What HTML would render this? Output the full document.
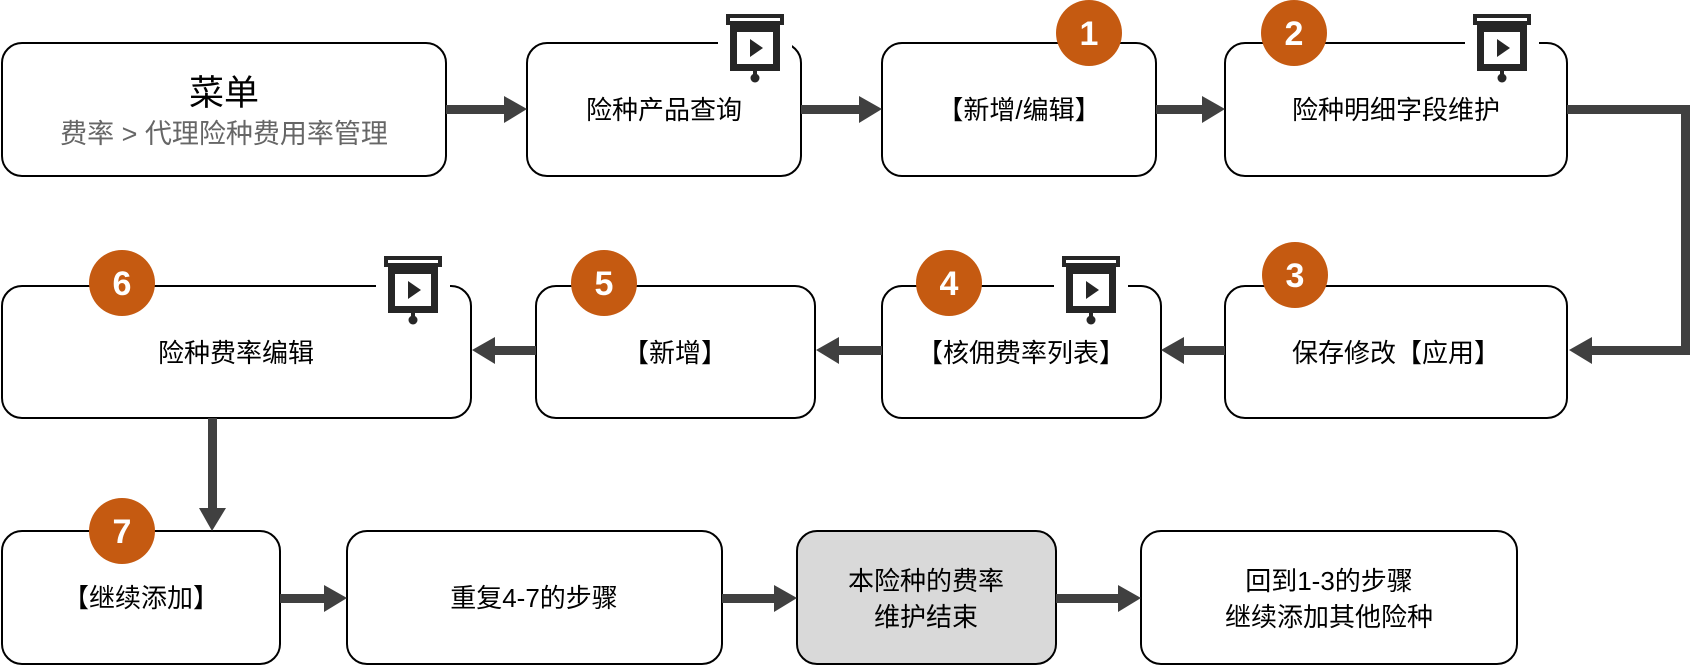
<!DOCTYPE html>
<html><head><meta charset="utf-8"><style>
html,body{margin:0;padding:0;background:#fff;}
svg{display:block;font-family:"Liberation Sans","Noto Sans CJK SC",sans-serif;}
</style></head><body>
<svg width="1690" height="668" viewBox="0 0 1690 668" xmlns="http://www.w3.org/2000/svg">
<defs>
<g id="proj">
<rect x="-29" y="0" width="58" height="11" fill="#262626"/>
<rect x="-25" y="11" width="50" height="46" fill="#262626"/>
<rect x="-18" y="18" width="36" height="32" fill="#fff"/>
<rect x="-25" y="4" width="50" height="3" fill="#fff"/>
<polygon points="-5,25 -5,43 8,34" fill="#262626"/>
<rect x="-2" y="57" width="4" height="6" fill="#262626"/>
<circle cx="0" cy="64" r="4.5" fill="#262626"/>
</g>
</defs>
<g fill="#fff" stroke="#000" stroke-width="2">
<rect x="2" y="43" width="444" height="133" rx="20"/>
<rect x="527" y="43" width="274" height="133" rx="20"/>
<rect x="882" y="43" width="274" height="133" rx="20"/>
<rect x="1225" y="43" width="342" height="133" rx="20"/>
<rect x="2" y="286" width="469" height="132" rx="20"/>
<rect x="536" y="286" width="279" height="132" rx="20"/>
<rect x="882" y="286" width="279" height="132" rx="20"/>
<rect x="1225" y="286" width="342" height="132" rx="20"/>
<rect x="2" y="531" width="278" height="133" rx="20"/>
<rect x="347" y="531" width="375" height="133" rx="20"/>
<rect x="797" y="531" width="259" height="133" rx="20" fill="#d9d9d9"/>
<rect x="1141" y="531" width="376" height="133" rx="20"/>
</g>
<g fill="#404040">
<rect x="446" y="105" width="60" height="9"/><polygon points="504,96 527,109 504,123"/>
<rect x="801" y="105" width="60" height="9"/><polygon points="859,96 882,109 859,123"/>
<rect x="1156" y="105" width="48" height="9"/><polygon points="1202,96 1225,109 1202,123"/>
<path d="M1567 105 H1690 V355 H1590 V346 H1681 V114 H1567Z"/><polygon points="1592,337 1569,350 1592,364"/>
<rect x="1183" y="346" width="42" height="9"/><polygon points="1184,337 1161,350 1184,364"/>
<rect x="838" y="346" width="44" height="9"/><polygon points="839,337 816,350 839,364"/>
<rect x="494" y="346" width="42" height="9"/><polygon points="495,337 472,350 495,364"/>
<rect x="208" y="418" width="9" height="92"/><polygon points="199,508 212,531 226,508"/>
<rect x="280" y="594" width="46" height="9"/><polygon points="324,585 347,598 324,612"/>
<rect x="722" y="594" width="54" height="9"/><polygon points="774,585 797,598 774,612"/>
<rect x="1056" y="594" width="64" height="9"/><polygon points="1118,585 1141,598 1118,612"/>
</g>
<g>
<rect x="718" y="30" width="74" height="26" fill="#fff"/><use href="#proj" x="755" y="14"/>
<rect x="1465" y="30" width="74" height="26" fill="#fff"/><use href="#proj" x="1502" y="14"/>
<rect x="376" y="274" width="74" height="26" fill="#fff"/><use href="#proj" x="413" y="256"/>
<rect x="1054" y="274" width="74" height="26" fill="#fff"/><use href="#proj" x="1091" y="256"/>
</g>
<g fill="#c55a11">
<circle cx="1089" cy="33" r="33"/><circle cx="1294" cy="33" r="33"/>
<circle cx="1295" cy="275" r="33"/><circle cx="949" cy="283" r="33"/>
<circle cx="604" cy="283" r="33"/><circle cx="122" cy="283" r="33"/>
<circle cx="122" cy="531" r="33"/>
</g>
<g fill="#fff" font-size="34" font-weight="bold" text-anchor="middle">
<text x="1089" y="45">1</text><text x="1294" y="45">2</text><text x="1295" y="287">3</text>
<text x="949" y="295">4</text><text x="604" y="295">5</text><text x="122" y="295">6</text><text x="122" y="543">7</text>
</g>
<g fill="#000" font-size="26" text-anchor="middle">
<text x="224" y="105" font-size="35">菜单</text>
<text x="224" y="143" fill="#666" font-size="27">费率 &gt; 代理险种费用率管理</text>
<text x="664" y="119">险种产品查询</text>
<text x="1019" y="119">【新增/编辑】</text>
<text x="1396" y="119">险种明细字段维护</text>
<text x="236" y="362">险种费率编辑</text>
<text x="675" y="362">【新增】</text>
<text x="1021" y="362">【核佣费率列表】</text>
<text x="1396" y="362">保存修改【应用】</text>
<text x="141" y="607">【继续添加】</text>
<text x="534" y="607">重复4-7的步骤</text>
<text x="926" y="590">本险种的费率</text>
<text x="926" y="626">维护结束</text>
<text x="1329" y="590">回到1-3的步骤</text>
<text x="1329" y="626">继续添加其他险种</text>
</g>
</svg>
</body></html>
